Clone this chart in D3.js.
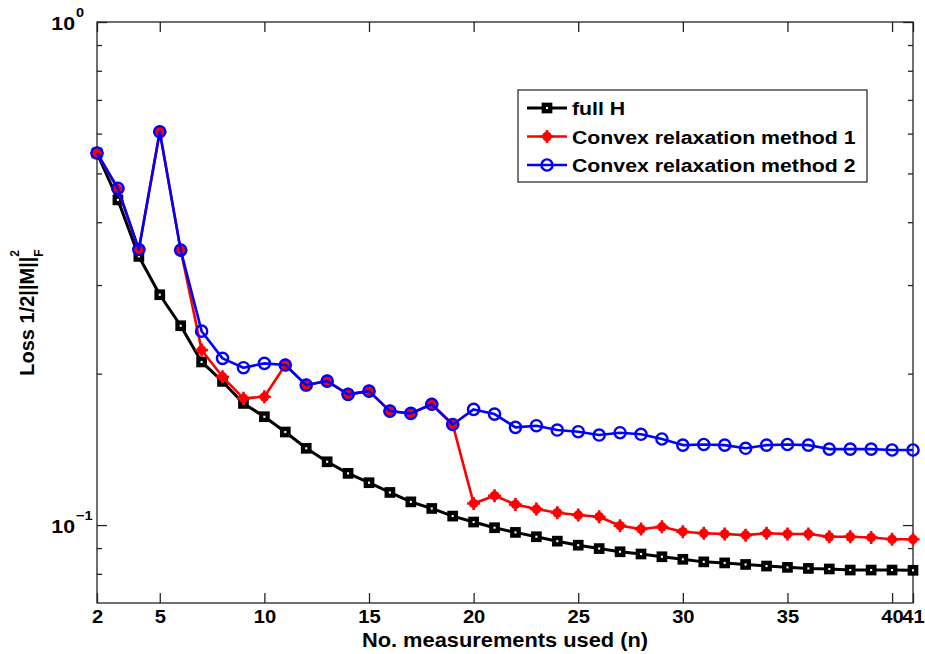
<!DOCTYPE html>
<html>
<head>
<meta charset="utf-8">
<script src="https://cdn.jsdelivr.net/npm/d3@7"></script>
<style>
  body { margin: 0; background: white; }
  text { font-family: "Liberation Sans", Arial, sans-serif; font-weight: bold; fill: #000; }
</style>
</head>
<body>
<svg id="chart" width="925" height="654"></svg>
<script>
// measurements used (n)
let nValues = [2, 3, 4, 5, 6, 7, 8, 9, 10, 11, 12, 13, 14, 15, 16, 17, 18, 19, 20, 21,
               22, 23, 24, 25, 26, 27, 28, 29, 30, 31, 32, 33, 34, 35, 36, 37, 38, 39, 40, 41];

let fullH = [0.549, 0.443, 0.342, 0.287, 0.249, 0.211, 0.193, 0.1745, 0.1642, 0.1531,
             0.1421, 0.1336, 0.1267, 0.1214, 0.1161, 0.1112, 0.1079, 0.1042, 0.1014, 0.0988,
             0.0967, 0.0948, 0.0929, 0.0912, 0.0898, 0.0885, 0.0876, 0.0865, 0.0855, 0.0845,
             0.0841, 0.0835, 0.0829, 0.0824, 0.0820, 0.0818, 0.0814, 0.0814, 0.0814, 0.0813];

let convex1 = [0.549, 0.465, 0.353, 0.605, 0.352, 0.2228, 0.1971, 0.1786, 0.1799, 0.2080,
               0.1898, 0.1933, 0.1819, 0.1846, 0.1685, 0.1667, 0.1738, 0.1585, 0.1104, 0.1144,
               0.1099, 0.1076, 0.1058, 0.1047, 0.1039, 0.0997, 0.0982, 0.0992, 0.0970, 0.0963,
               0.0960, 0.0955, 0.0963, 0.0960, 0.0960, 0.0948, 0.0948, 0.0945, 0.0937, 0.0937];

let convex2 = [0.549, 0.467, 0.353, 0.605, 0.352, 0.2429, 0.2145, 0.2055, 0.2096, 0.2080,
               0.1898, 0.1933, 0.1819, 0.1846, 0.1685, 0.1667, 0.1738, 0.1585, 0.1698, 0.1662,
               0.1564, 0.1576, 0.1545, 0.1533, 0.1510, 0.1526, 0.1515, 0.1483, 0.1442, 0.1446,
               0.1442, 0.1421, 0.1442, 0.1446, 0.1442, 0.1416, 0.1416, 0.1416, 0.1410, 0.1410];

let xTicks = [2, 5, 10, 15, 20, 25, 30, 35, 40, 41];
let yMajor = [0.1, 1];
let yMajorLabels = [["10", "\u22121"], ["10", "0"]];
let yMinor = [0.08, 0.09, 0.2, 0.3, 0.4, 0.5, 0.6, 0.7, 0.8, 0.9];
let seriesNames = ["full H", "Convex relaxation method 1", "Convex relaxation method 2"];

let plotLeft = 97, plotRight = 913, plotTop = 22, plotBottom = 603;
let stretch = 1.12;

let svg = d3.select("#chart");

let x = d3.scaleLinear().domain([2, 41]).range([plotLeft, plotRight]);
let y = d3.scaleLog().domain([0.07, 1]).range([plotBottom, plotTop]);

// frame
svg.append("rect")
	.attr("x", plotLeft).attr("y", plotTop)
	.attr("width", plotRight - plotLeft).attr("height", plotBottom - plotTop)
	.attr("fill", "white")
	.attr("stroke", "#222")
	.attr("stroke-width", 1.3);

// ticks (all inward, like matlab box on)
function tickAxis(axis, tx, ty) {
	let g = svg.append("g")
		.attr("transform", "translate(" + tx + "," + ty + ")")
		.call(axis);
	g.select(".domain").remove();
	g.selectAll("line").attr("stroke", "#222").attr("stroke-width", 1.3);
	return g;
}

let xAxis = tickAxis(d3.axisBottom(x).tickValues(xTicks).tickSize(-10).tickPadding(7), 0, plotBottom);
xAxis.selectAll("text")
	.attr("font-size", 18)
	.attr("font-family", null)
	.attr("transform", "scale(" + stretch + ",1)");
tickAxis(d3.axisTop(x).tickValues(xTicks).tickSize(-10).tickFormat(""), 0, plotTop);

tickAxis(d3.axisLeft(y).tickValues(yMajor).tickSize(-10).tickFormat(""), plotLeft, 0);
tickAxis(d3.axisLeft(y).tickValues(yMinor).tickSize(-5).tickFormat(""), plotLeft, 0);
tickAxis(d3.axisRight(y).tickValues(yMajor).tickSize(-10).tickFormat(""), plotRight, 0);
tickAxis(d3.axisRight(y).tickValues(yMinor).tickSize(-5).tickFormat(""), plotRight, 0);

// y tick labels 10^k
yMajor.forEach(function(v, i) {
	let g = svg.append("g")
		.attr("transform", "translate(" + (plotLeft - 22) + "," + y(v) + ") scale(" + stretch + ",1)");
	g.append("text")
		.attr("x", 0).attr("y", 8)
		.attr("text-anchor", "end")
		.attr("font-size", 19)
		.text(yMajorLabels[i][0]);
	g.append("text")
		.attr("x", 1).attr("y", -5)
		.attr("font-size", 13)
		.text(yMajorLabels[i][1]);
});

// lines and markers
let line = d3.line()
	.x(function(d, i) { return x(nValues[i]); })
	.y(function(d) { return y(d); });

function drawLine(data, color, width) {
	svg.append("path")
		.datum(data)
		.attr("d", line)
		.attr("fill", "none")
		.attr("stroke", color)
		.attr("stroke-width", width)
		.attr("stroke-linejoin", "round");
}

function squareMarker(g, cx, cy) {
	g.append("rect")
		.attr("x", cx - 3.2).attr("y", cy - 3.2)
		.attr("width", 6.4).attr("height", 6.4)
		.attr("fill", "white")
		.attr("stroke", "black")
		.attr("stroke-width", 4.3);
}

function starMarker(g, cx, cy) {
	g.append("circle")
		.attr("cx", cx).attr("cy", cy).attr("r", 4.8)
		.attr("fill", "#ff0000");
	g.append("path")
		.attr("d", "M" + (cx - 6.5) + "," + cy + "H" + (cx + 6.5) + "M" + cx + "," + (cy - 6.5) + "V" + (cy + 6.5))
		.attr("stroke", "#ff0000")
		.attr("stroke-width", 2.6);
}

function circleMarker(g, cx, cy) {
	g.append("circle")
		.attr("cx", cx).attr("cy", cy).attr("r", 5.6)
		.attr("fill", "none")
		.attr("stroke", "#0000ff")
		.attr("stroke-width", 2.4);
}

function drawMarkers(data, marker) {
	let g = svg.append("g");
	data.forEach(function(d, i) { marker(g, x(nValues[i]), y(d)); });
}

drawLine(fullH, "black", 3);
drawMarkers(fullH, squareMarker);
drawLine(convex1, "#ff0000", 2.6);
drawMarkers(convex1, starMarker);
drawLine(convex2, "#0000ff", 2.6);
drawMarkers(convex2, circleMarker);

// Legend
let legend = svg.append("g");
legend.append("rect")
	.attr("x", 518).attr("y", 90)
	.attr("width", 349).attr("height", 92)
	.attr("fill", "white")
	.attr("stroke", "#222")
	.attr("stroke-width", 1.2);

let legendStyles = [
	{ color: "black", width: 3, marker: squareMarker },
	{ color: "#ff0000", width: 2.6, marker: starMarker },
	{ color: "#0000ff", width: 2.6, marker: circleMarker }
];

seriesNames.forEach(function(name, i) {
	let ly = 108 + i * 28.5;
	legend.append("line")
		.attr("x1", 527).attr("x2", 567)
		.attr("y1", ly).attr("y2", ly)
		.attr("stroke", legendStyles[i].color)
		.attr("stroke-width", legendStyles[i].width);
	legendStyles[i].marker(legend, 547, ly);
	legend.append("text")
		.attr("transform", "translate(572," + (ly + 7) + ") scale(" + stretch + ",1)")
		.attr("font-size", 19)
		.text(name);
});

// x-axis label
svg.append("text")
	.attr("transform", "translate(" + ((plotLeft + plotRight) / 2) + ",647) scale(" + stretch + ",1)")
	.attr("text-anchor", "middle")
	.attr("font-size", 19.5)
	.text("No. measurements used (n)");

// y-axis label
let ylab = svg.append("text")
	.attr("transform", "translate(34," + ((plotTop + plotBottom) / 2) + ") rotate(-90)")
	.attr("text-anchor", "middle")
	.attr("font-size", 20);
ylab.append("tspan").text("Loss 1/2||M||");
ylab.append("tspan").attr("font-size", 12).attr("dy", 9).text("F");
ylab.append("tspan").attr("font-size", 12).attr("dx", -7.5).attr("dy", -24).text("2");
</script>
</body>
</html>
